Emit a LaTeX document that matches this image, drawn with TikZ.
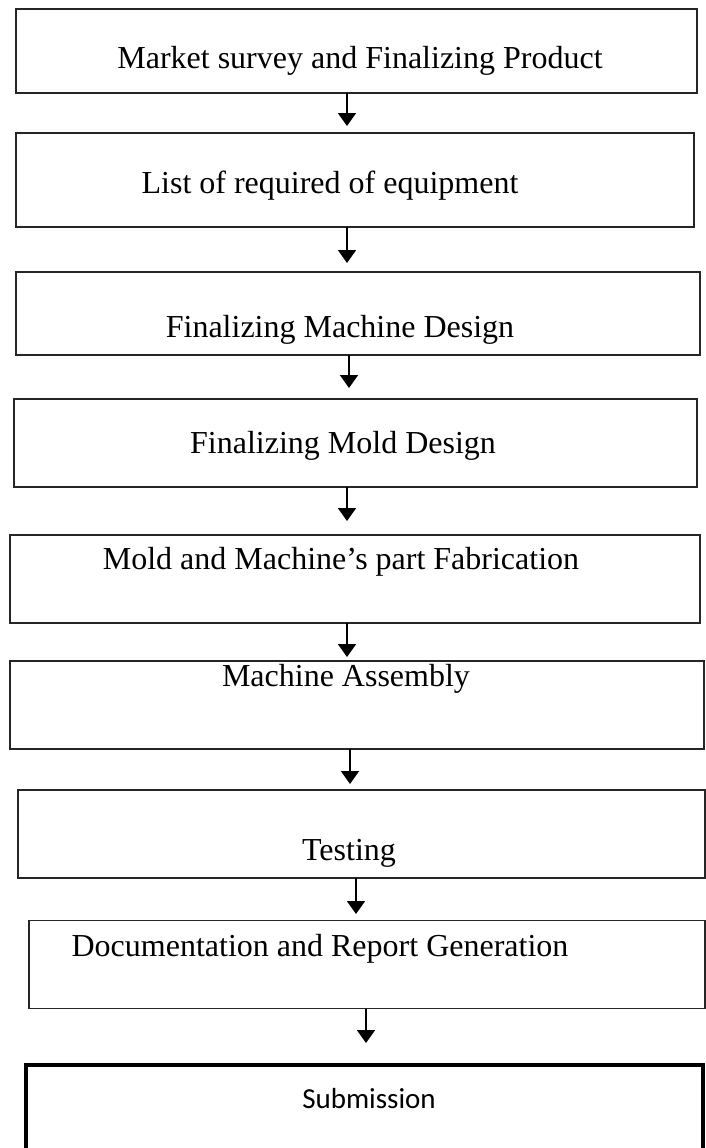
\documentclass[tikz,border=0pt]{standalone}
\usepackage{fontspec}
\setmainfont{Liberation Serif}
\newfontfamily\calfont{Carlito}
\usetikzlibrary{arrows.meta}
\tikzset{
  box/.style={draw=black!85, line width=1.6pt, inner sep=0pt, outer sep=0pt},
  finalbox/.style={draw=black, line width=4pt, inner sep=0pt, outer sep=0pt},
  lbl/.style={font=\fontsize{32}{38}\selectfont, inner sep=0pt, anchor=base},
  sublbl/.style={font=\calfont\fontsize{29}{35}\selectfont, inner sep=0pt, anchor=base},
  arr/.style={line width=1.8pt, -{Triangle[width=18pt,length=13pt]}}
}
\begin{document}
\begin{tikzpicture}[x=1pt,y=-1pt]
\useasboundingbox (0,0) rectangle (706,1148);

% process boxes
\node[box, minimum width=681pt, minimum height=84pt] (b1) at (356.5,51) {};
\node[box, minimum width=678pt, minimum height=94pt] (b2) at (355,180) {};
\node[box, minimum width=684pt, minimum height=83pt] (b3) at (358,313.5) {};
\node[box, minimum width=683pt, minimum height=88pt] (b4) at (355.5,443) {};
\node[box, minimum width=690pt, minimum height=88pt] (b5) at (355,579) {};
\node[box, minimum width=694pt, minimum height=88pt] (b6) at (357,705) {};
\node[box, minimum width=687pt, minimum height=88pt] (b7) at (361.5,834) {};
\node[box, minimum width=676pt, minimum height=88pt] (b8) at (367,964.5) {};
\node[finalbox, minimum width=677pt, minimum height=110pt] (b9) at (364.5,1120) {};

% labels
\node[lbl] (t1) at (360,68) {Market survey and Finalizing Product};
\node[lbl] (t2) at (330,193) {List of required of equipment};
\node[lbl] (t3) at (340,337) {Finalizing Machine Design};
\node[lbl] (t4) at (343,453) {Finalizing Mold Design};
\node[lbl] (t5) at (341,569) {Mold and Machine’s part Fabrication};
\node[lbl] (t6) at (346,686) {Machine Assembly};
\node[lbl] (t7) at (349,860) {Testing};
\node[lbl] (t8) at (320,956) {Documentation and Report Generation};
\node[sublbl] (t9) at (369,1108) {Submission};

% arrow tips
\coordinate (a1) at (347,126);
\coordinate (a2) at (347,263);
\coordinate (a3) at (349,388);
\coordinate (a4) at (347,521);
\coordinate (a5) at (347,657);
\coordinate (a6) at (350,784);
\coordinate (a7) at (356,914);
\coordinate (a8) at (366,1043);

\draw[arr] (b1.south -| a1) -- (a1);
\draw[arr] (b2.south -| a2) -- (a2);
\draw[arr] (b3.south -| a3) -- (a3);
\draw[arr] (b4.south -| a4) -- (a4);
\draw[arr] (b5.south -| a5) -- (a5);
\draw[arr] (b6.south -| a6) -- (a6);
\draw[arr] (b7.south -| a7) -- (a7);
\draw[arr] (b8.south -| a8) -- (a8);
\end{tikzpicture}
\end{document}
